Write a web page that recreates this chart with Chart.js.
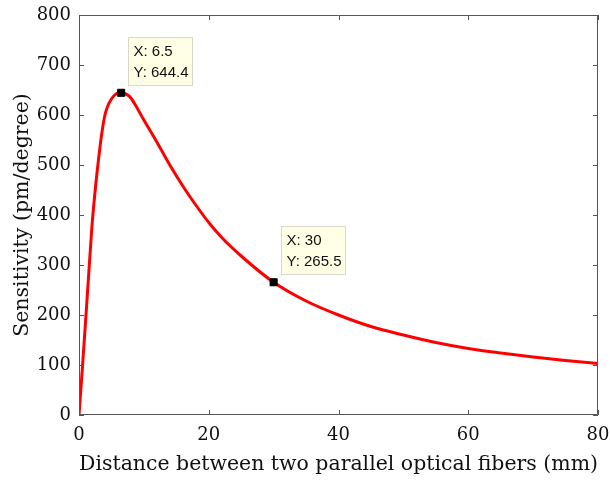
<!DOCTYPE html>
<html>
<head>
<meta charset="utf-8">
<script src="https://cdn.jsdelivr.net/npm/chart.js@4.4.1/dist/chart.umd.min.js"></script>
<style>
  html, body { margin: 0; padding: 0; background: #fff; }
  #wrap { width: 610px; height: 483px; }
</style>
</head>
<body>
<div id="wrap"><canvas id="myChart"></canvas></div>
<script>
const xValues = [0,0.5,1,1.5,2,2.5,3,3.5,4,4.5,5,5.5,6,6.5,7,7.5,8,9,10,12,14,16,18,20,22,25,30,35,40,45,50,55,60,65,70,75,80];
const sensitivity = [0,90,185,282,378,450,510,562,600,620,632,640,644,644.4,643,640,634,613,590,546,500,458,420,385,355,318,265.5,228,200,177,160,145,133,124,116,109,103];

const tipX = [6.5, 30];
const tipY = [644.4, 265.5];

const xTicks = [0, 20, 40, 60, 80];
const yTicks = [0, 100, 200, 300, 400, 500, 600, 700, 800];

const serif = "'DejaVu Serif', serif";

// box + inward tick marks + data tips
const boxPlugin = {
  id: 'box',
  afterDraw(chart) {
    const {ctx, chartArea: a, scales: {x, y}} = chart;
    ctx.save();
    ctx.strokeStyle = '#555';
    ctx.lineWidth = 1;
    ctx.beginPath();
    ctx.rect(a.left + 0.5, a.top + 0.5, a.right - a.left - 1, a.bottom - a.top - 1);
    xTicks.forEach(v => {
      const px = Math.round(x.getPixelForValue(v)) + 0.5;
      ctx.moveTo(px, a.bottom); ctx.lineTo(px, a.bottom - 5);
      ctx.moveTo(px, a.top); ctx.lineTo(px, a.top + 5);
    });
    yTicks.forEach(v => {
      const py = Math.round(y.getPixelForValue(v)) + 0.5;
      ctx.moveTo(a.left, py); ctx.lineTo(a.left + 5, py);
      ctx.moveTo(a.right, py); ctx.lineTo(a.right - 5, py);
    });
    ctx.stroke();

    tipX.forEach((tx, i) => {
      const px = x.getPixelForValue(tx);
      const py = y.getPixelForValue(tipY[i]);
      const bx = Math.round(px + 7) + 0.5, by = Math.round(py - 56) + 0.5;
      ctx.fillStyle = '#ffffe5';
      ctx.strokeStyle = '#d8d8c8';
      ctx.fillRect(bx, by, 64, 48);
      ctx.strokeRect(bx, by, 64, 48);
      ctx.fillStyle = '#111';
      ctx.font = "15px 'Liberation Sans', Arial, sans-serif";
      ctx.textBaseline = 'middle';
      ctx.textAlign = 'left';
      ctx.fillText('X: ' + tx, bx + 5, by + 14);
      ctx.fillText('Y: ' + tipY[i], bx + 5, by + 35);
    });
    ctx.restore();
  }
};

new Chart("myChart", {
  type: "scatter",
  data: {
    datasets: [{
      data: tipX.map((v, i) => ({x: v, y: tipY[i]})),
      pointStyle: 'rect',
      pointRadius: 5,
      backgroundColor: '#000',
      borderColor: '#000',
      showLine: false
    }, {
      data: xValues.map((v, i) => ({x: v, y: sensitivity[i]})),
      showLine: true,
      borderColor: '#ff0000',
      borderWidth: 3,
      pointRadius: 0,
      cubicInterpolationMode: 'monotone',
      fill: false
    }]
  },
  options: {
    responsive: true,
    maintainAspectRatio: false,
    animation: false,
    layout: {padding: {top: 15, right: 12, left: 0, bottom: 0}},
    plugins: {legend: {display: false}, tooltip: {enabled: false}},
    scales: {
      x: {
        type: 'linear',
        min: 0, max: 80,
        afterFit: s => { s.height = 68; s.paddingLeft = 0; s.paddingRight = 0; },
        afterBuildTicks: s => { s.ticks = xTicks.map(v => ({value: v})); },
        grid: {display: false, drawTicks: false},
        border: {display: false},
        ticks: {color: '#111', padding: 10, font: {family: serif, size: 18}},
        title: {display: true, text: 'Distance between two parallel optical fibers (mm)', color: '#111', padding: {top: 0, bottom: 6}, font: {family: serif, size: 20.5}}
      },
      y: {
        min: 0, max: 800,
        afterFit: s => { s.width = 79; s.paddingTop = 0; s.paddingBottom = 0; },
        afterBuildTicks: s => { s.ticks = yTicks.map(v => ({value: v})); },
        grid: {display: false, drawTicks: false},
        border: {display: false},
        ticks: {color: '#111', padding: 8, font: {family: serif, size: 18}},
        title: {display: true, text: 'Sensitivity (pm/degree)', color: '#111', padding: {top: 10, bottom: 0}, font: {family: serif, size: 20.5}}
      }
    }
  },
  plugins: [boxPlugin]
});
</script>
</body>
</html>
